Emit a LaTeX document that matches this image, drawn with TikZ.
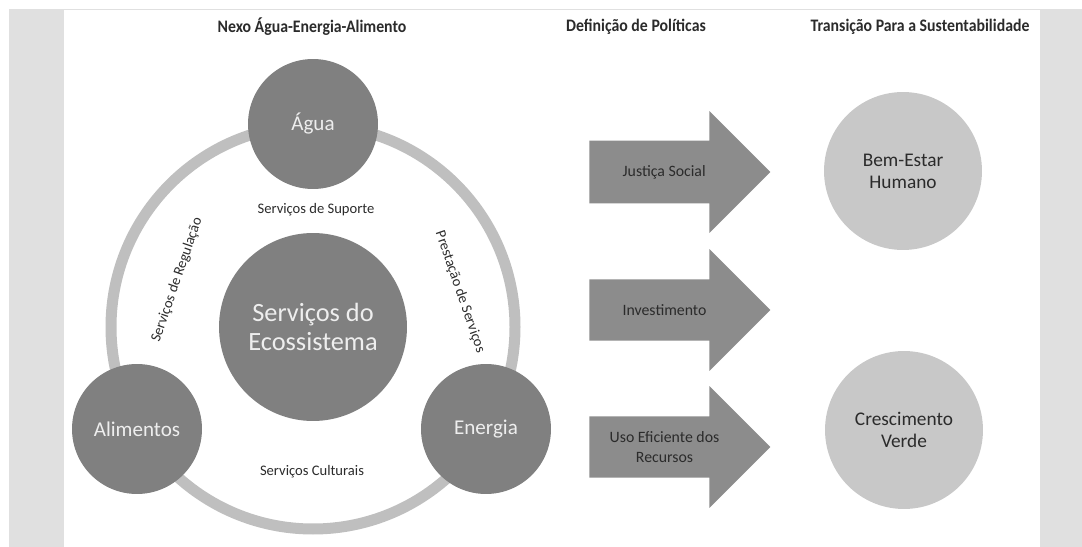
\documentclass[tikz,border=0pt]{standalone}
\usepackage{fontspec}
\setmainfont{Carlito}
\newfontfamily\titlefont[FakeStretch=0.9]{Carlito}
\usetikzlibrary{shapes.arrows}
\definecolor{sidegray}{HTML}{E0E0E0}
\definecolor{ringgray}{HTML}{BFBFBF}
\definecolor{nexusgray}{HTML}{808080}
\definecolor{arrowgray}{HTML}{8C8C8C}
\definecolor{goalgray}{HTML}{C8C8C8}
\definecolor{textgray}{HTML}{2B2B2B}
\definecolor{lighttext}{HTML}{EEEEEE}

\begin{document}
\begin{tikzpicture}[x=0.02cm, y=-0.02cm,
    heading/.style={font=\titlefont\bfseries\fontsize{10}{12}\selectfont, text=textgray},
    nexus/.style={circle, fill=nexusgray, minimum size=2.6cm, inner sep=0pt,
                  text=lighttext, font=\fontsize{12}{14}\selectfont},
    core/.style={circle, fill=nexusgray, minimum size=3.76cm, inner sep=0pt, align=center,
                 text=lighttext, font=\fontsize{15}{17}\selectfont},
    ring/.style={draw=ringgray, line width=0.22cm},
    svc/.style={font=\fontsize{8.3}{10}\selectfont, text=textgray, inner sep=1pt},
    policy/.style={single arrow, fill=arrowgray, minimum height=3.62cm, minimum width=2.44cm,
                   single arrow head extend=0.59cm, single arrow tip angle=90,
                   inner xsep=2pt, inner ysep=13.6pt,
                   align=center, font=\fontsize{9}{11.4}\selectfont, text=textgray},
    goal/.style={circle, fill=goalgray, minimum size=3.16cm, inner sep=0pt, align=center,
                 font=\fontsize{11}{12.5}\selectfont, text=textgray}
]

\useasboundingbox (0,0) rectangle (1082,547);

% --- side panels ---
\fill[sidegray] (9,9) rectangle (64,547);
\fill[sidegray] (1040,9) rectangle (1082,547);
\draw[sidegray, line width=0.4pt] (9,9) -- (1082,9);

% --- headings ---
\node[heading] (h1) at (312,27) {Nexo Água-Energia-Alimento};
\node[heading] (h2) at (636,27) {Definição de Políticas};
\node[heading] (h3) at (920,27) {Transição Para a Sustentabilidade};

% --- nexus ---
\node[core] (eco) at (313,327) {Serviços do\\Ecossistema};
\draw[ring] (eco.center) circle[radius=202];

\node[nexus] (agua) at (313,124) {Água};
\node[nexus] (alim) at (137,429) {Alimentos};
\node[nexus] (ener) at (486,429) {Energia};

\node[svc] (sup) at (316,210) {Serviços de Suporte};
\node[svc] (cult) at (312,472) {Serviços Culturais};
\node[svc, rotate=71] (reg) at (177,280) {Serviços de Regulação};
\node[svc, rotate=-71] (prest) at (460,292) {Prestação de Serviços};

% --- policies ---
\node[policy, anchor=tail] (p1) at (589,172) {Justiça Social};
\node[policy, anchor=tail] (p2) at (589,310) {Investimento};
\node[policy, anchor=tail, inner ysep=7.9pt] (p3) at (589,447) {Uso Eficiente dos\\Recursos};

% --- goals ---
\node[goal] (bem) at (903,171) {Bem-Estar\\Humano};
\node[goal] (cresc) at (904,430) {Crescimento\\Verde};

\end{tikzpicture}
\end{document}
